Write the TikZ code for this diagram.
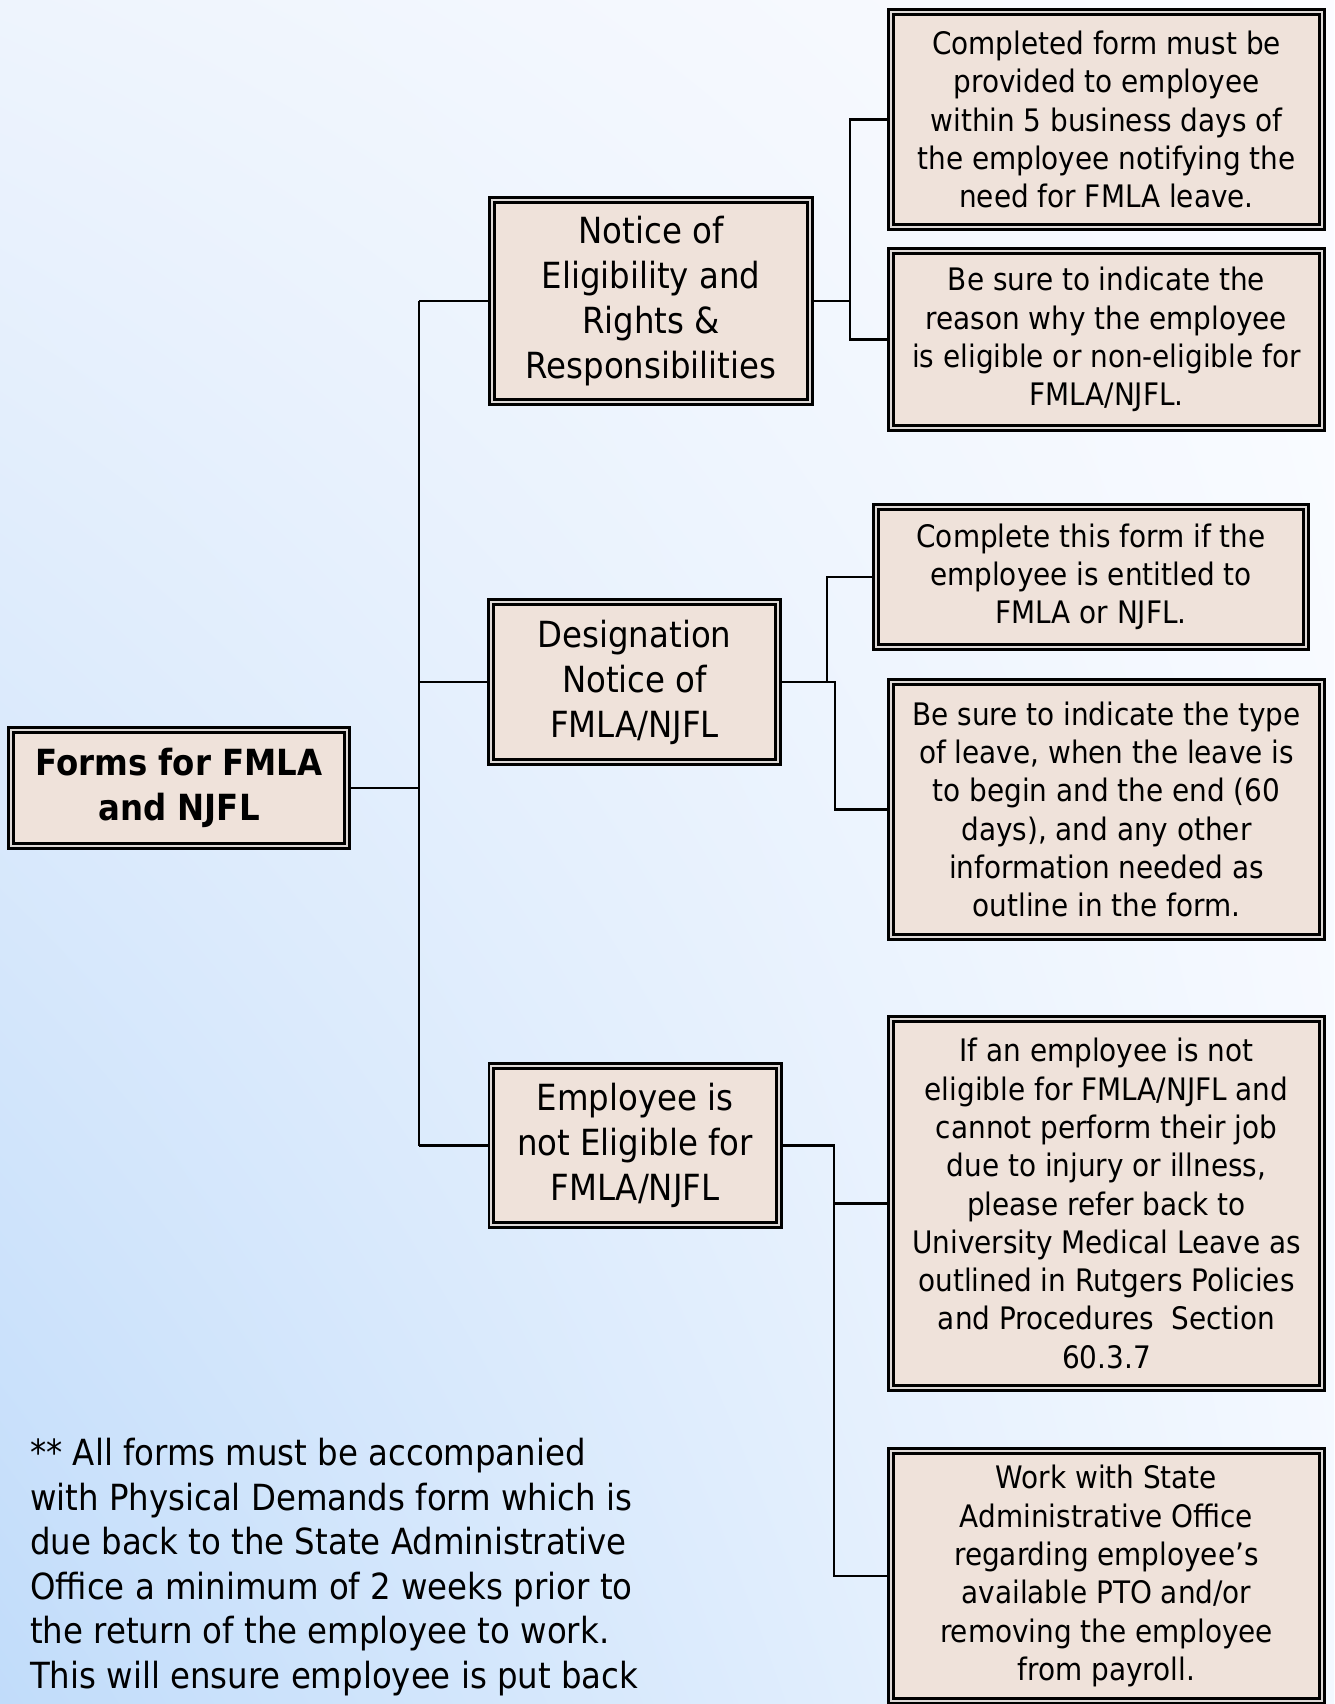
\documentclass[tikz,border=0pt]{standalone}
\usepackage{fontspec}
\setmainfont{DejaVu Sans Condensed}
\usetikzlibrary{backgrounds,shadings}

\definecolor{boxfill}{RGB}{239,226,218}
\definecolor{gapgray}{RGB}{222,217,215}
\definecolor{skyul}{RGB}{238,244,253}
\definecolor{skyur}{RGB}{251,252,255}
\definecolor{skyll}{RGB}{193,220,250}
\definecolor{skylr}{RGB}{243,248,255}

\tikzset{
  formbox/.style={draw=black, line width=2.8pt, double=gapgray, double distance=2pt,
    fill=boxfill, align=center, inner sep=4pt, outer sep=3.8pt},
  rootbox/.style={formbox, font=\bfseries\fontsize{36}{44.5}\selectfont,
    minimum width=336.4pt, minimum height=116.4pt},
  branchbox/.style={formbox, font=\fontsize{36}{45}\selectfont},
  leafbox/.style={formbox, font=\fontsize{31}{38.3}\selectfont, minimum width=431.4pt},
  conn/.style={draw=black, line width=2.2pt}
}

\begin{document}
\begin{tikzpicture}[x=1pt,y=-1pt]
\useasboundingbox (0,0) rectangle (1334,1704);

% main form box and the three forms
\node[rootbox] (root) at (179,788) {Forms for FMLA\\and NJFL};
\node[branchbox, minimum width=318.4pt, minimum height=202.4pt] (notice) at (651,301)
  {Notice of\\Eligibility and\\Rights \&\\Responsibilities};
\node[branchbox, minimum width=287.4pt, minimum height=160.4pt] (designation) at (634.5,682)
  {Designation\\Notice of\\FMLA/NJFL};
\node[branchbox, minimum width=287.4pt, minimum height=159.4pt] (employee) at (635,1145.5)
  {Employee is\\not Eligible for\\FMLA/NJFL};

% details
\node[leafbox, minimum height=215.4pt] (completed) at (1106.5,119.5)
  {Completed form must be\\provided to employee\\within 5 business days of\\the employee notifying the\\need for FMLA leave.};
\node[leafbox, minimum height=177.4pt] (reason) at (1106.5,339.5)
  {Be sure to indicate the\\reason why the employee\\is eligible or non-eligible for\\FMLA/NJFL.};
\node[leafbox, minimum width=430.4pt, minimum height=140.4pt] (entitled) at (1091,577)
  {Complete this form if the\\employee is entitled to\\FMLA or NJFL.};
\node[leafbox, minimum height=255.4pt] (leavetype) at (1106.5,809.5)
  {Be sure to indicate the type\\of leave, when the leave is\\to begin and the end (60\\days), and any other\\information needed as\\outline in the form.};
\node[leafbox, minimum height=369.4pt] (medical) at (1106.5,1203.5)
  {If an employee is not\\eligible for FMLA/NJFL and\\cannot perform their job\\due to injury or illness,\\please refer back to\\University Medical Leave as\\outlined in Rutgers Policies\\and Procedures\ \ Section\\60.3.7};
\node[leafbox, minimum height=250.4pt] (payroll) at (1106.5,1576)
  {Work with State\\Administrative Office\\regarding employee’s\\available PTO and/or\\removing the employee\\from payroll.};

\node[anchor=north west, inner sep=0pt, align=left, font=\fontsize{36}{44.6}\selectfont] (note) at (30,1438)
  {** All forms must be accompanied\\with Physical Demands form which is\\due back to the State Administrative\\Office a minimum of 2 weeks prior to\\the return of the employee to work.\\This will ensure employee is put back};

\coordinate (trunk) at (419,0);
\coordinate (jn) at (850,0);
\coordinate (jd) at (827,0);
\coordinate (jdd) at (835,0);
\coordinate (je) at (834,0);

\begin{scope}[on background layer]
  \shade[upper left=skyul, upper right=skyur, lower left=skyll, lower right=skylr]
    (0,0) rectangle (1334,1704);
  \draw[conn] (root.east) -- (root.east -| trunk);
  \draw[conn] (notice.west -| trunk) -- (employee.west -| trunk);
  \draw[conn] (notice.west -| trunk) -- (notice.west);
  \draw[conn] (designation.west -| trunk) -- (designation.west);
  \draw[conn] (employee.west -| trunk) -- (employee.west);
  \draw[conn] (notice.east) -- (notice.east -| jn) |- (completed.west);
  \draw[conn] (notice.east -| jn) |- (reason.west);
  \draw[conn] (designation.east) -- (designation.east -| jdd) |- (leavetype.west);
  \draw[conn] (designation.east -| jd) |- (entitled.west);
  \draw[conn] (employee.east) -- (employee.east -| je) |- (medical.west);
  \draw[conn] (employee.east -| je) |- (payroll.west);
\end{scope}
\end{tikzpicture}
\end{document}
